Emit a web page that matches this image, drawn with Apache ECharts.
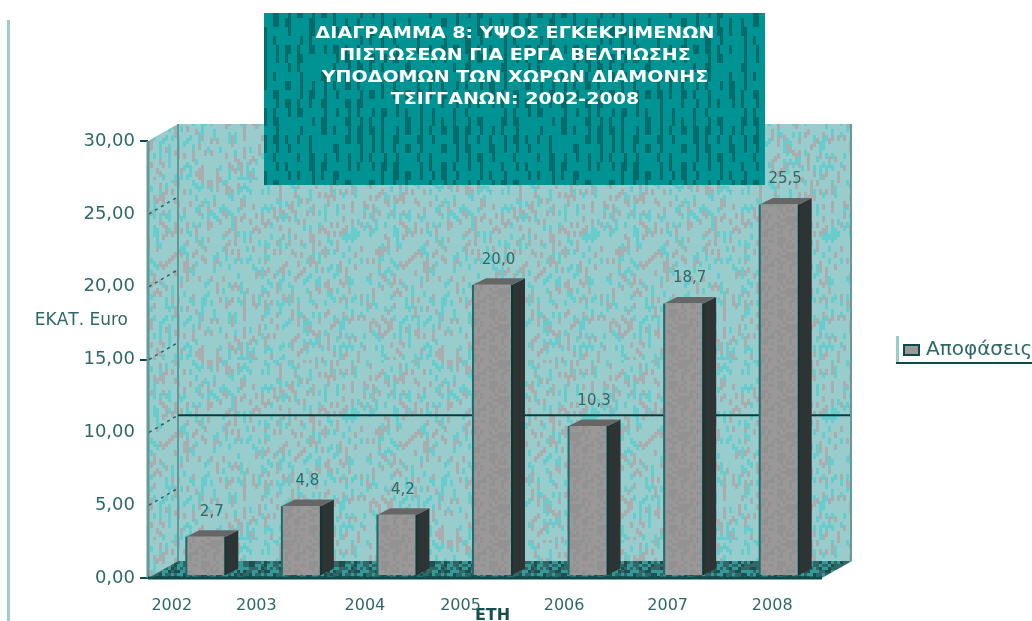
<!DOCTYPE html>
<html><head><meta charset="utf-8">
<style>html,body{margin:0;padding:0;background:#fff;overflow:hidden}#c{width:1032px;height:621px}</style>
<script src="https://cdn.jsdelivr.net/npm/echarts@6/dist/echarts.min.js"></script>
</head><body><div id="c"></div>
<script>
const categories = ['2002','2003','2004','2005','2006','2007','2008'];
const values = [2.7,4.8,4.2,20.0,10.3,18.7,25.5];
const seriesName = 'Αποφάσεις';
const yTicksMarked = [0,15,30];
const wallGridValues = [5,10,15,20,25];
const backWallLines = [10];
const categoryLabelShift = [34,45,32,32,24,16,7];
const titleText = 'ΔΙΑΓΡΑΜΜΑ 8: ΥΨΟΣ ΕΓΚΕΚΡΙΜΕΝΩΝ\nΠΙΣΤΩΣΕΩΝ ΓΙΑ ΕΡΓΑ ΒΕΛΤΙΩΣΗΣ\nΥΠΟΔΟΜΩΝ ΤΩΝ ΧΩΡΩΝ ΔΙΑΜΟΝΗΣ\nΤΣΙΓΓΑΝΩΝ: 2002-2008';

function hash(a,b){let h=(a*374761393+b*668265263)|0;h=Math.imul(h^(h>>>13),1274126177);return ((h^(h>>>16))>>>0)%100;}
function tile(w,h,cell,pick){
  const cv=document.createElement('canvas');cv.width=w*cell;cv.height=h*cell;
  const g=cv.getContext('2d');
  for(let y=0;y<h;y++)for(let x=0;x<w;x++){g.fillStyle=pick(x,y);g.fillRect(x*cell,y*cell,cell,cell);}
  return cv;
}
const wallTile=tile(80,60,3,(x,y)=>{const n=hash(x,Math.floor((y+x*5)/2));return n<66?'#99cccc':n<84?'#a9adad':'#66cccc';});
const titleTile=tile(80,60,3,(x,y)=>{const j=hash(x,Math.floor((y+x*3)/3))<50?1:0;return (x+j)%4===0?'#006b6b':'#009393';});
const floorTile=tile(30,20,3,(x,y)=>{const n=hash(x,y);return n<35?'#339999':n<75?'#336666':'#1f5050';});
const barTile=tile(12,12,3,(x,y)=>{const n=hash(x+3,y);return n<45?'#999999':n<90?'#929292':'#a69292';});

const fontStack='"DejaVu Sans",sans-serif';
const txt='#2f6868';
const depthX=30,depthY=-17;
const barDX=13,barDY=-6.5,barLift=3;

function renderWalls(params,api){
  const cs=params.coordSys;
  const y0=api.coord([0,0])[1],yTop=api.coord([0,30])[1];
  const xl=cs.x-10,xr=cs.x+cs.width-5;
  const bl=xl+depthX,br=xr+depthX;
  const poly=(pts,fill)=>({type:'polygon',shape:{points:pts},style:{fill:fill}});
  const line=(x1,y1,x2,y2,stroke,w,dash)=>({type:'line',shape:{x1,y1,x2,y2},style:{stroke,lineWidth:w,lineDash:dash||null}});
  const wall={image:wallTile,repeat:'repeat'};
  const floor={image:floorTile,repeat:'repeat'};
  const ch=[
    poly([[bl,yTop+depthY],[br,yTop+depthY],[br,y0+depthY],[bl,y0+depthY]],wall),
    poly([[xl,yTop],[bl,yTop+depthY],[bl,y0+depthY],[xl,y0]],wall),
    poly([[xl,y0],[bl,y0+depthY],[br,y0+depthY],[xr,y0]],floor),
    line(xl,yTop,xl,y0,'#669999',3),
    line(bl,yTop+depthY,bl,y0+depthY,'#5f9a9a',2),
    line(br-1,yTop+depthY,br-1,y0+depthY,'#669999',2),
    line(xl,y0,xr,y0,'#0d4a4a',3)
  ];
  wallGridValues.forEach(v=>{const y=api.coord([0,v])[1];ch.push(line(xl+1,y,bl,y+depthY,'#1f6666',1.5,[3,4]));});
  backWallLines.forEach(v=>{const y=api.coord([0,v])[1];ch.push(line(bl,y+depthY,br-2,y+depthY,'#063c3c',2));});
  return {type:'group',children:ch};
}
function renderBar(params,api){
  const i=api.value(0),v=api.value(1);
  const c=api.coord([i,v]),b=api.coord([i,0]);
  const w=39,x=c[0]-w/2,xx=x+w,top=c[1]-barLift+1,bot=b[1]-barLift;
  const mk=(pts,fill)=>({type:'polygon',shape:{points:pts},style:{fill:fill}});
  return {type:'group',children:[
    mk([[xx,top],[xx+barDX,top+barDY],[xx+barDX,bot+barDY],[xx,bot]],'#2e3434'),
    mk([[x,top],[x+barDX,top+barDY],[xx+barDX,top+barDY],[xx,top]],'#666666'),
    {type:'rect',shape:{x:x,y:top,width:w,height:bot-top},style:{fill:{image:barTile,repeat:'repeat'}}},
    {type:'line',shape:{x1:x,y1:top,x2:x,y2:bot},style:{stroke:'#1f6a6a',lineWidth:2}},
    {type:'line',shape:{x1:xx,y1:top,x2:xx,y2:bot},style:{stroke:'#0a3a3a',lineWidth:2}},
    {type:'text',x:c[0]+6,y:top-25,style:{text:v.toFixed(1).replace('.',','),fill:txt,font:'15px '+fontStack,align:'center',verticalAlign:'middle'}}
  ]};
}

const chart=echarts.init(document.getElementById('c'));
chart.setOption({
  animation:false,
  backgroundColor:'#ffffff',
  grid:{left:158,right:205,top:141,bottom:43,outerBoundsMode:'none',containLabel:false},
  legend:{data:[seriesName],left:903,top:340,orient:'vertical',icon:'rect',itemWidth:15,itemHeight:10,itemGap:0,padding:0,
    textStyle:{color:txt,fontFamily:fontStack,fontSize:20,padding:[0,0,0,2]}},
  xAxis:{type:'category',
    data:categories.map((c,i)=>({value:c,textStyle:{padding:[0,categoryLabelShift[i]*2,0,0]}})),
    axisLine:{show:false},axisTick:{show:false},
    axisLabel:{interval:0,margin:20,color:txt,fontFamily:fontStack,fontSize:16,hideOverlap:false},
    name:'ΕΤΗ',nameLocation:'middle',nameGap:30,nameMoveOverlap:false,
    nameTextStyle:{color:'#174f4f',fontFamily:fontStack,fontSize:16,fontWeight:'bold'}},
  yAxis:{type:'value',min:0,max:30,interval:5,offset:10,
    axisLine:{show:false},splitLine:{show:false},
    axisTick:{show:true,length:8,customValues:yTicksMarked,lineStyle:{color:'#0d4a4a',width:2}},
    axisLabel:{margin:13,color:txt,fontFamily:fontStack,fontSize:18,formatter:v=>v.toFixed(2).replace('.',',')}},
  graphic:[
    {type:'rect',z:5,shape:{x:264,y:13,width:501,height:172},style:{fill:{image:titleTile,repeat:'repeat'}}},
    {type:'text',z:6,x:515,y:23,scaleX:1.27,style:{text:titleText,fill:'#ffffff',font:'bold 15px '+fontStack,align:'center',verticalAlign:'top',lineHeight:22}},
    {type:'text',z:6,x:128,y:321,style:{text:'ΕΚΑΤ. Euro',fill:txt,font:'17px '+fontStack,align:'right',verticalAlign:'middle'}},
    {type:'rect',z:1,shape:{x:7,y:20,width:3,height:601},style:{fill:'#99cccc'}},
    {type:'rect',z:1,shape:{x:896,y:336,width:3,height:27},style:{fill:'#99cccc'}},
    {type:'rect',z:1,shape:{x:896,y:362,width:136,height:2},style:{fill:'#0d4a4a'}}
  ],
  series:[
    {type:'custom',name:'walls',z:1,silent:true,renderItem:renderWalls,data:[[0,0]],encode:{x:0,y:1}},
    {type:'custom',name:seriesName,z:2,silent:true,renderItem:renderBar,itemStyle:{color:'#999999',borderColor:'#0d4a4a',borderWidth:1},
      data:values.map((v,i)=>[i,v]),encode:{x:0,y:1}}
  ]
});
</script></body></html>
